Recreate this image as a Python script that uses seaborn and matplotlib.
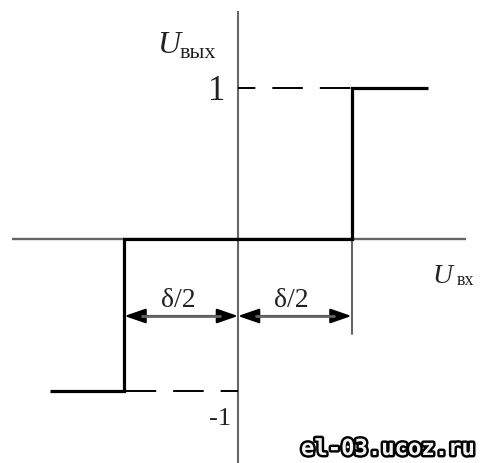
import numpy as np
import pandas as pd
import matplotlib
matplotlib.use("Agg")
import matplotlib.pyplot as plt
import matplotlib.patheffects as pe
import seaborn as sns

# relay characteristic with hysteresis (input in units of delta/2, output normalised)
u_in = [-1.66, -1.0, -1.0, 1.0, 1.0, 1.67]
u_out = [-1.0, -1.0, 0.0, 0.0, 1.0, 1.0]

# dashed guides to the +1 / -1 levels (drawn from the vertical axis outwards)
guide_top_x = [0.0, 1.0]
guide_top_y = [1.0, 1.0]
guide_bot_x = [0.0, -1.0]
guide_bot_y = [-1.0, -1.0]

level_labels = ["1", "-1"]
half_width = 1.0  # delta/2 in input units

sns.set_style("white")
plt.rcParams["lines.scale_dashes"] = False
serif = ["Liberation Serif", "DejaVu Serif"]

# pixel -> data helpers for placing the annotations
def X(px):
    return (px - 238) / 113.5

def Y(py):
    return (240 - py) / 151.5

fig = plt.figure(figsize=(4.82, 4.64), dpi=100)
ax = fig.add_axes([0, 0, 1, 1])
ax.set_xlim(X(0), X(482))
ax.set_ylim(Y(464), Y(0))
ax.axis("off")

axis_col = "#666666"
# coordinate axes
ax.plot([X(12), X(466)], [0, 0], color=axis_col, lw=1.7, zorder=1, solid_capstyle="butt")
ax.plot([0, 0], [Y(12), Y(464)], color=axis_col, lw=1.5, zorder=1, solid_capstyle="butt")
# extension line under the right switching point
ax.plot([half_width, half_width], [0, Y(335)], color=axis_col, lw=1.5, zorder=1)

# dashed level guides
dash = (0, (12.5, 12.2, 22, 12.2, 22, 12.2))
ax.plot(guide_top_x, guide_top_y, color="black", lw=1.4, zorder=2, linestyle=dash)
ax.plot(guide_bot_x, guide_bot_y, color="black", lw=1.4, zorder=2, linestyle=dash)

# the characteristic itself
df = pd.DataFrame({"u_in": u_in, "u_out": u_out})
sns.lineplot(data=df, x="u_in", y="u_out", sort=False, estimator=None,
             color="black", lw=2.3, ax=ax, legend=False, zorder=3)
for l in ax.lines[-1:]:
    l.set_solid_joinstyle("miter")
    l.set_solid_capstyle("butt")

# dimension arrows delta/2
y_arr = Y(317)
head = 18 / 113.5
for x0, x1 in [(-half_width, 0.0), (0.0, half_width)]:
    ax.annotate("", xy=(x1, y_arr), xytext=(x0, y_arr),
                arrowprops=dict(arrowstyle="<|-|>,head_length=1.3,head_width=0.45",
                                color="black", lw=1.5, shrinkA=0, shrinkB=0,
                                mutation_scale=10), zorder=4)
    ax.plot([x0 + head, x1 - head], [y_arr, y_arr], color=axis_col, lw=2.0, zorder=5)
    ax.text((x0 + x1) / 2 - 0.03, Y(307), "δ/2", family=serif, fontsize=20,
            ha="center", va="baseline", color="#222222")

# level labels
ax.text(X(217), Y(100), level_labels[0], family=serif, fontsize=25,
        ha="center", va="baseline", color="#222222")
ax.text(X(231), Y(425), level_labels[1], family=serif, fontsize=19,
        ha="right", va="baseline", color="#222222")

# axis names
ax.text(X(157), Y(53), "U", family=serif, style="italic", fontsize=23,
        ha="left", va="baseline", color="#222222")
ax.text(X(180), Y(58), "вых", family=serif, fontsize=16,
        ha="left", va="baseline", color="#222222")
ax.text(X(432), Y(283), "U", family=serif, style="italic", fontsize=20,
        ha="left", va="baseline", color="#222222")
ax.text(X(457), Y(285), "вх", family=serif, fontsize=13,
        ha="left", va="baseline", color="#222222")

# watermark
ax.text(X(301), Y(456), "el-03.ucoz.ru", family="DejaVu Sans Mono",
        weight="bold", fontsize=16, ha="left", va="baseline", color="#f2f2f2",
        path_effects=[pe.withStroke(linewidth=3.5, foreground="black")])

plt.savefig("out.png", dpi=100)
plt.close()
